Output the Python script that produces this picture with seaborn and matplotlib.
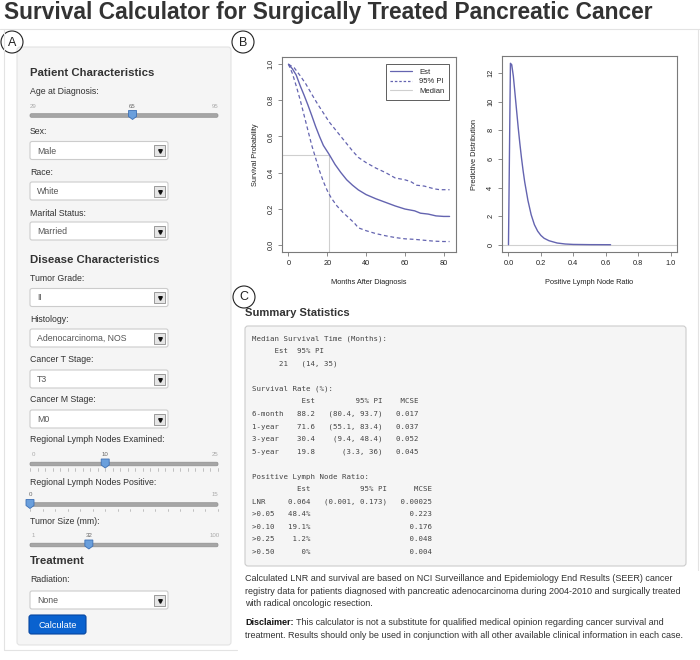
import matplotlib
matplotlib.use("Agg")
import matplotlib.pyplot as plt
from matplotlib.patches import Rectangle, FancyBboxPatch, Circle, Polygon
from matplotlib.lines import Line2D
from matplotlib.ticker import FormatStrFormatter
import seaborn as sns

sns.set_style("white")
plt.rcParams['font.family'] = ['Liberation Sans', 'DejaVu Sans']

# ---- survival curve ----
est_months = [0, 2, 4, 6, 8, 10, 12, 14, 16, 18, 21, 24, 27, 30, 33, 36, 40, 45, 50, 55, 60, 65, 68, 72, 76, 80, 83]
est_surv = [1.0, 0.975, 0.94, 0.882, 0.83, 0.775, 0.716, 0.655, 0.60, 0.55, 0.50, 0.445, 0.40, 0.36, 0.33,
            0.304, 0.278, 0.255, 0.235, 0.215, 0.198, 0.188, 0.175, 0.17, 0.16, 0.157, 0.157]
upper_months = [0, 3, 6, 9, 12, 15, 18, 21, 24, 27, 30, 33, 36, 40, 45, 50, 55, 60, 63, 66, 70, 75, 78, 83]
upper_surv = [1.0, 0.98, 0.937, 0.89, 0.834, 0.78, 0.73, 0.68, 0.64, 0.60, 0.56, 0.52, 0.484, 0.455, 0.425,
              0.40, 0.37, 0.36, 0.35, 0.33, 0.325, 0.31, 0.305, 0.305]
lower_months = [0, 2, 4, 6, 8, 10, 12, 14, 16, 18, 20, 22, 25, 28, 31, 34, 36, 40, 45, 50, 55, 60, 65, 70, 75, 80, 83]
lower_surv = [1.0, 0.95, 0.88, 0.804, 0.72, 0.635, 0.551, 0.48, 0.41, 0.35, 0.30, 0.26, 0.215, 0.18, 0.15,
              0.12, 0.094, 0.078, 0.062, 0.05, 0.04, 0.033, 0.03, 0.025, 0.02, 0.018, 0.018]
median_month = 21

# ---- predictive distribution of LNR ----
lnr_x = [0.0, 0.012, 0.02, 0.03, 0.04, 0.05, 0.06, 0.07, 0.08, 0.09, 0.1, 0.12, 0.14, 0.16, 0.18, 0.2,
         0.22, 0.25, 0.3, 0.35, 0.4, 0.5, 0.63]
lnr_density = [0.0, 12.7, 12.6, 11.8, 10.6, 9.4, 8.2, 7.1, 6.1, 5.2, 4.4, 3.1, 2.1, 1.4, 0.95, 0.65,
               0.45, 0.28, 0.12, 0.05, 0.02, 0.005, 0.0]

# ---- summary statistics ----
median_est, median_lo, median_hi = 21, 14, 35
rate_rows = ["6-month", "1-year", "3-year", "5-year"]
rate_est = [88.2, 71.6, 30.4, 19.8]
rate_lo = [80.4, 55.1, 9.4, 3.3]
rate_hi = [93.7, 83.4, 48.4, 36]
rate_mcse = ["0.017", "0.037", "0.052", "0.045"]
lnr_est, lnr_lo, lnr_hi, lnr_mcse = "0.064", "0.001", "0.173", "0.00025"
cut_rows = [">0.05", ">0.10", ">0.25", ">0.50"]
cut_prob = ["48.4%", "19.1%", "1.2%", "0%"]
cut_mcse = ["0.223", "0.176", "0.048", "0.004"]

# ---- form inputs ----
sex, race, marital = "Male", "White", "Married"
grade, histology, t_stage, m_stage, radiation = "II", "Adenocarcinoma, NOS", "T3", "M0", "None"
age_min, age_max, age = 29, 95, 65
exam_min, exam_max, exam = 0, 25, 10
pos_min, pos_max, pos = 0, 15, 0
size_min, size_max, size = 1, 100, 32

line_col = "#6464b0"
txt_col = "#333333"

fig = plt.figure(figsize=(7, 6.6), dpi=100)
bg = fig.add_axes([0, 0, 1, 1])
bg.set_xlim(0, 700)
bg.set_ylim(660, 0)
bg.axis('off')
rend = fig.canvas.get_renderer()


def text(x, y, s, size=7, width=None, **kw):
    kw.setdefault('color', txt_col)
    kw.setdefault('va', 'center')
    t = bg.text(x, y, s, fontsize=size, **kw)
    if width is not None:
        w = t.get_window_extent(rend).width
        t.set_fontsize(size * width / w)
    return t


def fitsize(s, width, **kw):
    t = text(0, 0, s, size=10, width=width, **kw)
    fs = t.get_fontsize()
    t.remove()
    return fs


# title and frames
text(4, 13, "Survival Calculator for Surgically Treated Pancreatic Cancer", width=651, weight='bold')
bg.plot([0, 700], [29, 29], color="#e3e3e3", lw=0.8)
bg.plot([4, 4, 237], [29, 650, 650], color="#e3e3e3", lw=0.8)
bg.plot([698, 698], [29, 570], color="#e3e3e3", lw=0.8)
bg.add_patch(FancyBboxPatch((17, 47), 214, 598, boxstyle="round,pad=0,rounding_size=3",
                            fc="#f5f5f5", ec="#e3e3e3", lw=0.8))
for cx, cy, lab in [(12, 42, "A"), (243, 42, "B"), (244, 297, "C")]:
    bg.add_patch(Circle((cx, cy), 11, fill=False, ec="#222222", lw=0.8))
    text(cx, cy + 0.5, lab, size=9, ha='center', color="#222222")

# left input panel
head_fs = fitsize("Patient Characteristics", 123, weight='bold')
lab_fs = fitsize("Regional Lymph Nodes Examined:", 135)
sel_fs = fitsize("Adenocarcinoma, NOS", 90)
tiny_fs = 4.4


def select(y, value):
    bg.add_patch(FancyBboxPatch((30, y), 138, 18, boxstyle="round,pad=0,rounding_size=2",
                                fc="white", ec="#cccccc", lw=0.8))
    text(37, y + 9.5, value, size=sel_fs, color="#555555")
    bg.add_patch(Rectangle((154, y + 3.5), 11, 11, fc="#e6e6e6", ec="#8c8c8c", lw=0.6))
    bg.plot([159.5], [y + 9.5], marker='v', ms=2.6, color="#111111")


def slider(y, lo, hi, val, ticks=False):
    x0, x1 = 30, 218
    hx = x0 + (val - lo) / (hi - lo) * (x1 - x0)
    for lx, lv in [(x0 + 3, lo), (x1 - 3, hi)]:
        if abs(lx - hx) > 8:
            text(lx, y - 9.5, str(lv), size=tiny_fs, ha='center', color="#aaaaaa")
    text(hx, y - 9.5, str(val), size=tiny_fs, ha='center', color="#666666")
    bg.add_patch(FancyBboxPatch((x0, y - 1.8), x1 - x0, 3.6, boxstyle="round,pad=0,rounding_size=1.5",
                                fc="#a6a6a6", ec="#8f8f8f", lw=0.5))
    if ticks:
        for v in range(lo, hi + 1):
            tx = x0 + (v - lo) / (hi - lo) * (x1 - x0)
            bg.plot([tx, tx], [y + 4, y + 6.5], color="#aaaaaa", lw=0.5)
    bg.add_patch(Polygon([(hx - 4, y - 5), (hx + 4, y - 5), (hx + 4, y + 1), (hx, y + 4), (hx - 4, y + 1)],
                         closed=True, fc="#6a9fdc", ec="#3d70b5", lw=0.6))


text(30, 72.5, "Patient Characteristics", size=head_fs, weight='bold')
text(30, 91.5, "Age at Diagnosis:", size=lab_fs)
slider(115.5, age_min, age_max, age)
text(30, 131.5, "Sex:", size=lab_fs)
select(141.5, sex)
text(30, 172.5, "Race:", size=lab_fs)
select(182, race)
text(30, 213, "Marital Status:", size=lab_fs)
select(222, marital)
text(30, 260, "Disease Characteristics", size=head_fs, weight='bold')
text(30, 278.5, "Tumor Grade:", size=lab_fs)
select(288.5, grade)
text(30, 319, "Histology:", size=lab_fs)
select(329, histology)
text(30, 360, "Cancer T Stage:", size=lab_fs)
select(370, t_stage)
text(30, 400, "Cancer M Stage:", size=lab_fs)
select(410, m_stage)
text(30, 440, "Regional Lymph Nodes Examined:", size=lab_fs)
slider(464, exam_min, exam_max, exam, ticks=True)
text(30, 482.5, "Regional Lymph Nodes Positive:", size=lab_fs)
slider(504.5, pos_min, pos_max, pos, ticks=True)
text(30, 521.5, "Tumor Size (mm):", size=lab_fs)
slider(545, size_min, size_max, size)
text(30, 561.5, "Treatment", size=head_fs, weight='bold')
text(30, 580, "Radiation:", size=lab_fs)
select(591, radiation)
bg.add_patch(FancyBboxPatch((29, 615), 57, 19, boxstyle="round,pad=0,rounding_size=2.5",
                            fc="#0a62cf", ec="#0645a0", lw=0.8))
text(57.5, 625, "Calculate", size=fitsize("Calculate", 38), ha='center', color="white")

# plot B: survival curve
ax1 = fig.add_axes([282 / 700, 1 - 252 / 660, 174 / 700, 195 / 660])
sns.lineplot(x=upper_months, y=upper_surv, ax=ax1, color=line_col, lw=0.9, linestyle=(0, (3, 2.2)))
sns.lineplot(x=lower_months, y=lower_surv, ax=ax1, color=line_col, lw=0.9, linestyle=(0, (3, 2.2)))
sns.lineplot(x=est_months, y=est_surv, ax=ax1, color=line_col, lw=1.0)
ax1.set_xlim(-3.32, 86.32)
ax1.set_ylim(-0.04, 1.04)
ax1.plot([-3.32, median_month], [0.5, 0.5], color="#cfcfcf", lw=0.8, zorder=1)
ax1.plot([median_month, median_month], [-0.04, 0.5], color="#cfcfcf", lw=0.8, zorder=1)
ax1.set_xticks([0, 20, 40, 60, 80])
ax1.set_yticks([0, 0.2, 0.4, 0.6, 0.8, 1.0])
ax1.yaxis.set_major_formatter(FormatStrFormatter('%.1f'))
ax1.set_xlabel("Months After Diagnosis", fontsize=5.3, color="#222222", labelpad=9)
ax1.set_ylabel("Survival Probability", fontsize=5.3, color="#222222", labelpad=6)
handles = [Line2D([], [], color=line_col, lw=0.9),
           Line2D([], [], color=line_col, lw=0.9, linestyle=(0, (2, 1.5))),
           Line2D([], [], color="#cfcfcf", lw=0.8)]
leg = ax1.legend(handles, ["Est", "95% PI", "Median"], loc='upper right', fontsize=5.5,
                 fancybox=False, framealpha=1, edgecolor="#444444", handlelength=2.8,
                 borderaxespad=0.9, borderpad=0.6, labelspacing=0.3, handletextpad=1.0)
leg.get_frame().set_linewidth(0.6)

# plot B: LNR predictive distribution
ax2 = fig.add_axes([502 / 700, 1 - 252 / 660, 175 / 700, 196 / 660])
ax2.axhline(0, color="#d0d0d0", lw=0.8, zorder=1)
sns.lineplot(x=lnr_x, y=lnr_density, ax=ax2, color=line_col, lw=1.0, sort=False)
ax2.set_xlim(-0.04, 1.04)
ax2.set_ylim(-0.51, 13.21)
ax2.set_xticks([0, 0.2, 0.4, 0.6, 0.8, 1.0])
ax2.set_yticks([0, 2, 4, 6, 8, 10, 12])
ax2.xaxis.set_major_formatter(FormatStrFormatter('%.1f'))
ax2.set_xlabel("Positive Lymph Node Ratio", fontsize=5.3, color="#222222", labelpad=9)
ax2.set_ylabel("Predictive Distribution", fontsize=5.3, color="#222222", labelpad=7)

for ax in (ax1, ax2):
    for sp in ax.spines.values():
        sp.set_color("#7a7a7a")
        sp.set_linewidth(0.8)
    ax.tick_params(direction='out', length=3, width=0.6, color="#7a7a7a", labelsize=5.3,
                   labelcolor="#222222", pad=2.5, bottom=True, left=True)
    ax.tick_params(axis='y', labelrotation=90)
    plt.setp(ax.get_yticklabels(), va='center')
    ax.grid(False)

# panel C: summary statistics
text(245, 313.5, "Summary Statistics", size=fitsize("Summary Statistics", 105, weight='bold'), weight='bold')
bg.add_patch(FancyBboxPatch((245, 326), 441, 240, boxstyle="round,pad=0,rounding_size=3",
                            fc="#f5f5f5", ec="#cccccc", lw=0.8))
lines = ["Median Survival Time (Months):",
         f"{'Est':>8}  95% PI",
         f"{median_est:>8}   ({median_lo}, {median_hi})",
         "",
         "Survival Rate (%):",
         f"{'':10}{'Est':>4}   {'95% PI':>12}   {'MCSE':>5}"]
for lab, e, lo, hi, m in zip(rate_rows, rate_est, rate_lo, rate_hi, rate_mcse):
    lines.append(f"{lab:<10}{e:>4}   {f'({lo:g}, {hi:g})':>12}   {m:>5}")
lines += ["", "Positive Lymph Node Ratio:",
          f"{'':8}{'Est':>5}   {'95% PI':>14}   {'MCSE':>7}",
          f"{'LNR':<8}{lnr_est:>5}   {f'({lnr_lo}, {lnr_hi})':>14}   {lnr_mcse:>7}"]
for lab, p, m in zip(cut_rows, cut_prob, cut_mcse):
    lines.append(f"{lab:<8}{p:>5}   {'':>14}   {m:>7}")
for i, s in enumerate(lines):
    text(251.5, 338.5 + 12.56 * i, s, size=5.3, family='DejaVu Sans Mono', color="#444444")

para_fs = fitsize("registry data for patients diagnosed with pancreatic adenocarcinoma during 2004-2010 "
                  "and surgically treated", 434)
text(245, 578.5, "Calculated LNR and survival are based on NCI Surveillance and Epidemiology End Results "
     "(SEER) cancer", size=para_fs)
text(245, 591, "registry data for patients diagnosed with pancreatic adenocarcinoma during 2004-2010 "
     "and surgically treated", size=para_fs)
text(245, 603.5, "with radical oncologic resection.", size=para_fs)
b = text(245, 622.5, "Disclaimer:", size=para_fs, weight='bold', color="#111111")
bw = b.get_window_extent(rend).width
text(245 + bw + 2, 622.5, "This calculator is not a substitute for qualified medical opinion regarding "
     "cancer survival and", size=para_fs)
text(245, 635.5, "treatment. Results should only be used in conjunction with all other available "
     "clinical information in each case.", size=para_fs)

fig.savefig("out.png", dpi=100)
